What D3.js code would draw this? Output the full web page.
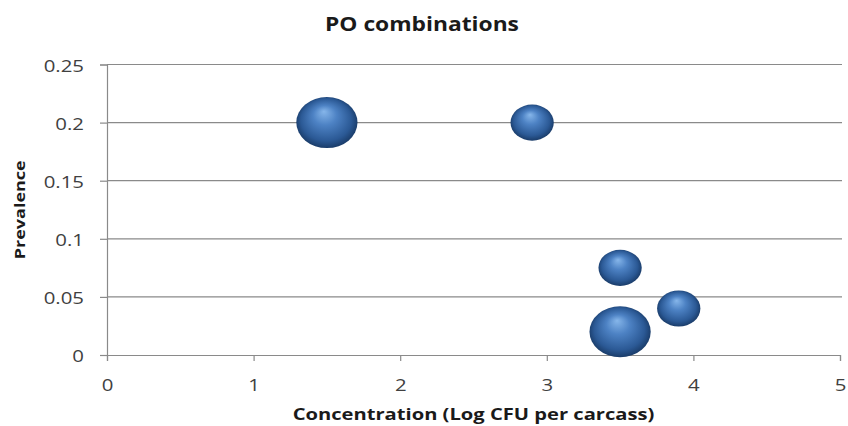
<!DOCTYPE html>
<html>
<head>
<meta charset="utf-8">
<script src="https://cdn.jsdelivr.net/npm/d3@7"></script>
<style>
    body { margin: 0; background: #fff; }
    text { font-family: "Open Sans", sans-serif; }
</style>
</head>
<body>
<div id="vis"></div>
<script>
const CONCENTRATION = [1.5, 2.9, 3.5, 3.9, 3.5]
const PREVALENCE = [0.2, 0.2, 0.075, 0.04, 0.02]
const BUBBLE_SIZE = [2, 1, 1, 1, 2]

const X_TICKS = [0, 1, 2, 3, 4, 5]
const Y_TICKS = [0, 0.05, 0.1, 0.15, 0.2, 0.25]

const TITLE = 'PO combinations'
const X_TITLE = 'Concentration (Log CFU per carcass)'
const Y_TITLE = 'Prevalence'

// the original picture is stretched sideways, text and bubbles too
const STRETCH = 1.2

let width = 848, height = 426
let margin = {top: 64.5, right: 8, bottom: 71, left: 107}

let svg = d3.select('#vis')
    .append('svg')
    .attr('width', width)
    .attr('height', height)

let x = d3.scaleLinear()
    .domain([0, 5])
    .range([margin.left, width - margin.right])

let y = d3.scaleLinear()
    .domain([0, 0.25])
    .range([height - margin.bottom, margin.top])

let r = d3.scaleSqrt()
    .domain([0, 2])
    .range([0, 25.5])

let data = CONCENTRATION.map((c, i) => ({x: c, y: PREVALENCE[i], size: BUBBLE_SIZE[i]}))

// gradient for the shiny bubbles
let grad = svg.append('defs')
    .append('radialGradient')
    .attr('id', 'ball')
    .attr('cx', '50%').attr('cy', '50%').attr('r', '55%')
    .attr('fx', '45%').attr('fy', '28%')
grad.append('stop').attr('offset', '0%').attr('stop-color', '#86b6ea')
grad.append('stop').attr('offset', '35%').attr('stop-color', '#4d82c4')
grad.append('stop').attr('offset', '75%').attr('stop-color', '#2b5995')
grad.append('stop').attr('offset', '100%').attr('stop-color', '#14325a')

// gridlines
svg.append('g')
    .selectAll('line')
    .data(Y_TICKS.slice(1))
    .enter().append('line')
    .attr('x1', x(0))
    .attr('x2', x(5) + 2)
    .attr('y1', d => y(d))
    .attr('y2', d => y(d))
    .style('stroke', '#8a8a8a')
    .style('stroke-width', '1.2px')

let yAxis = svg.append('g')
    .attr('transform', `translate(${x(0)},0)`)
    .call(d3.axisLeft(y).tickValues(Y_TICKS).tickSize(7).tickFormat(d => String(d)))

let xAxis = svg.append('g')
    .attr('transform', `translate(0,${y(0)})`)
    .call(d3.axisBottom(x).tickValues(X_TICKS).tickSize(6).tickFormat(d3.format('d')))

for (let ax of [xAxis, yAxis]) {
    ax.select('.domain').style('stroke', '#8a8a8a').style('stroke-width', '1.2px')
    ax.selectAll('.tick line').style('stroke', '#8a8a8a').style('stroke-width', '1.2px')
    ax.selectAll('text')
        .style('font-size', '17px')
        .style('fill', '#404040')
        .style('font-family', '"Open Sans", sans-serif')
}

yAxis.selectAll('.tick text')
    .attr('x', null).attr('dy', null)
    .attr('dominant-baseline', 'central')
    .attr('transform', `translate(-23,0) scale(${STRETCH},1)`)

xAxis.selectAll('.tick text')
    .attr('y', null).attr('dy', null)
    .attr('dominant-baseline', 'central')
    .attr('transform', `translate(0,29) scale(${STRETCH},1)`)

// bubbles
svg.append('g')
    .selectAll('ellipse')
    .data(data)
    .enter().append('ellipse')
    .attr('cx', d => x(d.x))
    .attr('cy', d => y(d.y))
    .attr('rx', d => r(d.size) * STRETCH)
    .attr('ry', d => r(d.size))
    .attr('fill', 'url(#ball)')

// titles
svg.append('text')
    .attr('transform', `translate(422,24) scale(${STRETCH},1)`)
    .attr('text-anchor', 'middle')
    .attr('dominant-baseline', 'central')
    .style('font-size', '19px')
    .style('font-weight', 'bold')
    .style('fill', '#1a1a1a')
    .text(TITLE)

svg.append('text')
    .attr('transform', `translate(${(x(0) + x(5)) / 2},413) scale(${STRETCH},1)`)
    .attr('text-anchor', 'middle')
    .attr('dominant-baseline', 'central')
    .style('font-size', '16.8px')
    .style('font-weight', 'bold')
    .style('fill', '#1a1a1a')
    .text(X_TITLE)

svg.append('text')
    .attr('transform', `translate(19,${(y(0) + y(0.25)) / 2}) rotate(-90) scale(${STRETCH},1)`)
    .attr('text-anchor', 'middle')
    .attr('dominant-baseline', 'central')
    .style('font-size', '15px')
    .style('font-weight', 'bold')
    .style('fill', '#1a1a1a')
    .text(Y_TITLE)
</script>
</body>
</html>
